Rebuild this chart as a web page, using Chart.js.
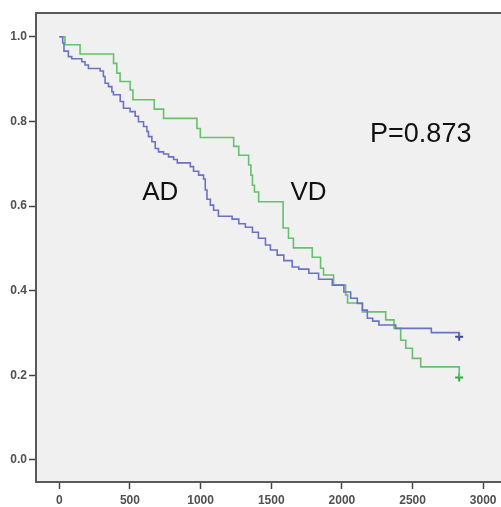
<!DOCTYPE html>
<html>
<head>
<meta charset="utf-8">
<script src="https://cdn.jsdelivr.net/npm/chart.js@4/dist/chart.umd.min.js"></script>
<style>
  html, body { margin: 0; padding: 0; background: #ffffff; overflow: hidden; }
  #wrap { width: 501px; height: 507px; overflow: hidden; }
</style>
</head>
<body>
<div id="wrap"><canvas id="kmChart" width="520" height="507"></canvas></div>
<script>
// survival time (x) and cumulative survival (y)
const adTime = [0, 24, 33, 64, 88, 159, 182, 206, 289, 312, 324, 348, 372, 383, 431, 454, 501, 537, 560, 596,
  620, 631, 655, 679, 702, 738, 773, 809, 835, 927, 950, 986, 1021, 1033, 1045, 1069, 1092, 1126, 1223, 1270,
  1317, 1367, 1409, 1459, 1494, 1542, 1589, 1648, 1695, 1766, 1835, 1932, 2014, 2062, 2109, 2145, 2180, 2218,
  2262, 2381, 2633, 2830];
const adSurv = [1.0, 0.985, 0.966, 0.953, 0.948, 0.941, 0.933, 0.925, 0.919, 0.906, 0.890, 0.882, 0.870, 0.863,
  0.847, 0.831, 0.823, 0.812, 0.799, 0.788, 0.776, 0.764, 0.752, 0.736, 0.728, 0.723, 0.716, 0.710, 0.702,
  0.693, 0.682, 0.673, 0.664, 0.638, 0.616, 0.602, 0.590, 0.576, 0.569, 0.558, 0.550, 0.538, 0.524, 0.508,
  0.496, 0.484, 0.471, 0.456, 0.451, 0.441, 0.427, 0.413, 0.397, 0.382, 0.370, 0.354, 0.335, 0.328, 0.319,
  0.311, 0.301, 0.291];

const vdTime = [0, 40, 147, 384, 407, 430, 501, 521, 672, 738, 974, 998, 1234, 1270, 1340, 1356, 1367, 1381,
  1411, 1584, 1622, 1657, 1790, 1849, 1870, 1941, 2026, 2040, 2145, 2310, 2369, 2416, 2452, 2499, 2558, 2830];
const vdSurv = [1.0, 0.981, 0.959, 0.937, 0.914, 0.894, 0.874, 0.851, 0.829, 0.807, 0.783, 0.762, 0.741, 0.720,
  0.697, 0.673, 0.649, 0.633, 0.610, 0.548, 0.524, 0.501, 0.479, 0.453, 0.437, 0.413, 0.390, 0.371, 0.350,
  0.331, 0.311, 0.283, 0.264, 0.240, 0.220, 0.195];

// censored marks at the end of follow-up
const adCensor = [[2830, 0.291]];
const vdCensor = [[2830, 0.195]];

const xTicks = [0, 500, 1000, 1500, 2000, 2500, 3000];
const yTicks = [0.0, 0.2, 0.4, 0.6, 0.8, 1.0];

// text labels inside the plot: [text, x, y]
const notes = [['AD', 714, 0.63], ['VD', 1764, 0.632], ['P=0.873', 2558, 0.77]];

const blueLine = '#6a72c4';
const greenLine = '#66c06e';

function toPoints(xs, ys) {
  return xs.map((x, i) => ({x: x, y: ys[i]}));
}

// grey plot background + top frame line + the texts
const framePlugin = {
  id: 'frame',
  beforeDraw(chart) {
    const a = chart.chartArea, ctx = chart.ctx;
    ctx.save();
    ctx.fillStyle = '#f0f0f0';
    ctx.fillRect(a.left, a.top, chart.width - a.left, a.bottom - a.top);
    ctx.restore();
  },
  afterDraw(chart) {
    const a = chart.chartArea, ctx = chart.ctx;
    ctx.save();
    ctx.strokeStyle = '#5a5a5a';
    ctx.lineWidth = 2;
    ctx.beginPath();
    ctx.moveTo(a.left - 1, a.top);
    ctx.lineTo(chart.width, a.top);
    ctx.stroke();
    ctx.fillStyle = '#111';
    ctx.textAlign = 'center';
    ctx.textBaseline = 'middle';
    notes.forEach(n => {
      ctx.font = (n[0].length > 2 ? '27px' : '26px') + ' "Liberation Sans", Arial, sans-serif';
      ctx.fillText(n[0], chart.scales.x.getPixelForValue(n[1]), chart.scales.y.getPixelForValue(n[2]));
    });
    ctx.restore();
  }
};

const ctx = document.getElementById('kmChart');
new Chart(ctx, {
  type: 'line',
  data: {
    datasets: [{
      label: 'AD',
      data: toPoints(adTime, adSurv),
      borderColor: blueLine,
      borderWidth: 1.6,
      stepped: true,
      pointRadius: 0
    }, {
      label: 'VD',
      data: toPoints(vdTime, vdSurv),
      borderColor: greenLine,
      borderWidth: 1.6,
      stepped: true,
      pointRadius: 0
    }, {
      type: 'scatter',
      label: 'AD censored',
      data: adCensor.map(p => ({x: p[0], y: p[1]})),
      pointStyle: 'cross',
      pointRadius: 4,
      borderColor: '#3b44a0',
      borderWidth: 2
    }, {
      type: 'scatter',
      label: 'VD censored',
      data: vdCensor.map(p => ({x: p[0], y: p[1]})),
      pointStyle: 'cross',
      pointRadius: 4,
      borderColor: '#2fa83c',
      borderWidth: 2
    }]
  },
  options: {
    responsive: false,
    animation: false,
    layout: { padding: { top: 13, right: 0, left: 0, bottom: 0 } },
    plugins: {
      legend: { display: false },
      tooltip: { enabled: false }
    },
    scales: {
      x: {
        type: 'linear',
        min: -165,
        max: 3218,
        afterBuildTicks: s => { s.ticks = xTicks.map(v => ({value: v})); },
        afterFit: s => { s.height = 25; },
        grid: { drawOnChartArea: false, tickLength: 7, color: '#444', tickWidth: 1.5 },
        border: { color: '#5a5a5a', width: 2 },
        ticks: {
          color: '#505050',
          padding: 4,
          maxRotation: 0,
          font: { family: '"Liberation Sans", Arial, sans-serif', size: 12, weight: 'bold' },
          callback: v => String(v)
        }
      },
      y: {
        min: -0.052,
        max: 1.056,
        afterBuildTicks: s => { s.ticks = yTicks.map(v => ({value: v})); },
        afterFit: s => { s.width = 36; },
        grid: { drawOnChartArea: false, tickLength: 7, color: '#444', tickWidth: 1.5 },
        border: { color: '#5a5a5a', width: 2 },
        ticks: {
          color: '#505050',
          padding: 2,
          font: { family: '"Liberation Sans", Arial, sans-serif', size: 12, weight: 'bold' },
          callback: v => v.toFixed(1)
        }
      }
    }
  },
  plugins: [framePlugin]
});
</script>
</body>
</html>
